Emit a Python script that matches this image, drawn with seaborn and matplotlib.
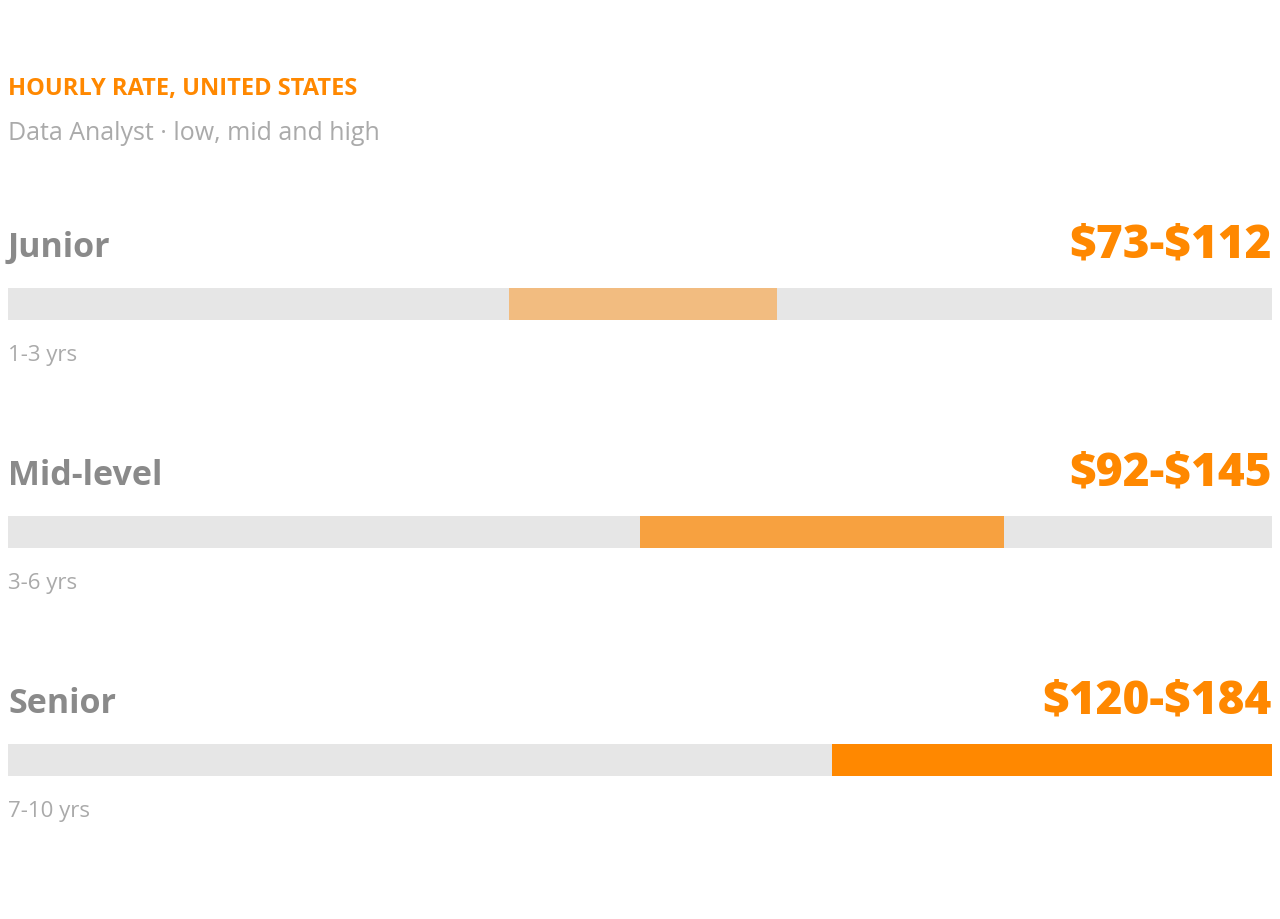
import pandas as pd
import seaborn as sns
import matplotlib.pyplot as plt

# data
levels = ['Junior', 'Mid-level', 'Senior']
years = ['1-3 yrs', '3-6 yrs', '7-10 yrs']
low = [73, 92, 120]
high = [112, 145, 184]
bar_colors = ['#F2BC80', '#F7A140', '#FF8800']
scale_max = 184

ORANGE = '#FF8800'
TRACK = '#E6E6E6'

sns.set_theme(style='white')
plt.rcParams['font.family'] = ['Open Sans', 'DejaVu Sans']

df = pd.DataFrame({'level': levels, 'low': low, 'high': high,
                   'track': [scale_max] * len(levels)})

fig = plt.figure(figsize=(12.8, 9.2), dpi=100)
ax = fig.add_axes([8 / 1280, 0, 1264 / 1280, 1])

bw = 32 / 228
# grey track, then the high value in colour, then the low part painted back grey
sns.barplot(data=df, y='level', x='track', order=levels, color=TRACK,
            width=bw, ax=ax, saturation=1)
sns.barplot(data=df, y='level', x='high', order=levels, hue='level',
            palette=dict(zip(levels, bar_colors)), legend=False,
            width=bw, ax=ax, saturation=1)
sns.barplot(data=df, y='level', x='low', order=levels, color=TRACK,
            width=bw, ax=ax, saturation=1)

for p in ax.patches:
    p.set_linewidth(0)

ax.set_xlim(0, scale_max)
ax.set_ylim(2 + 159 / 228, -305 / 228)
ax.axis('off')

for i, lvl in enumerate(levels):
    ax.text(0, i - 57 / 228, lvl, ha='left', va='center',
            fontsize=24.5, fontweight='bold', color='#8A8A8A')
    ax.text(scale_max, i - 60 / 228, f'${low[i]}-${high[i]}', ha='right',
            va='center', fontsize=33, fontweight='heavy', color=ORANGE,
            parse_math=False)
    ax.text(0, i + 50 / 228, years[i], ha='left', va='center',
            fontsize=16, color='#AAAAAA')

fig.text(8 / 1280, 1 - 89 / 920, 'HOURLY RATE, UNITED STATES', ha='left',
         va='center', fontsize=17, fontweight='bold', color=ORANGE)
fig.text(8 / 1280, 1 - 134 / 920, 'Data Analyst \u00b7 low, mid and high',
         ha='left', va='center', fontsize=18, color='#AAAAAA')

fig.savefig('out.png', dpi=100)
